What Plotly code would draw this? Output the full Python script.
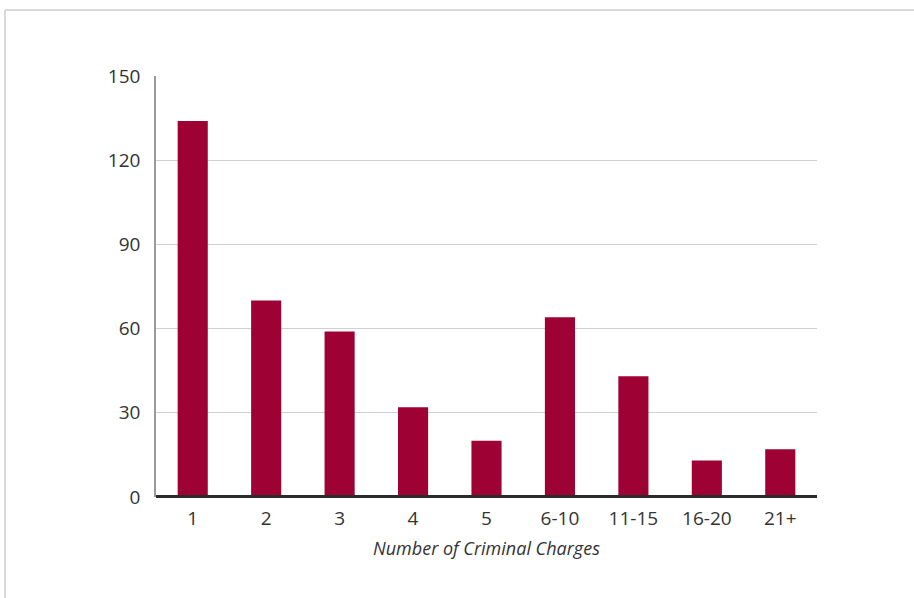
import plotly.graph_objects as go

categories = ["1", "2", "3", "4", "5", "6-10", "11-15", "16-20", "21+"]
counts = [134, 70, 59, 32, 20, 64, 43, 13, 17]
y_ticks = [0, 30, 60, 90, 120, 150]

W, H = 914, 598
ML, MR, MT, MB = 156, 97, 76, 101
pw, ph = W - ML - MR, H - MT - MB

def px(x):
    return (x - ML) / pw

def py(y):
    return (H - MB - y) / ph

fig = go.Figure(go.Bar(
    x=categories, y=counts, marker_color="#9E0234", marker_line_width=0,
))

font = "'Open Sans', sans-serif"
fig.update_layout(
    width=W, height=H,
    margin=dict(l=ML, r=MR, t=MT, b=MB, pad=0),
    paper_bgcolor="white", plot_bgcolor="white",
    bargap=0.59, showlegend=False,
    font=dict(family=font, color="#333333", size=19),
    xaxis=dict(
        type="category", showgrid=False, ticks="outside", ticklen=4, tickcolor="rgba(0,0,0,0)",
        tickfont=dict(size=19, color="#333333"),
        title=dict(text="<i>Number of Criminal Charges</i>", font=dict(size=18, color="#333333"), standoff=12),
        showline=False, zeroline=False,
    ),
    yaxis=dict(
        range=[0, 150], tickvals=y_ticks, showgrid=True, gridcolor="#d0d0d0", gridwidth=1,
        showline=True, linecolor="#9a9a9a", linewidth=1.5, zeroline=False,
        ticks="outside", ticklen=10, tickcolor="rgba(0,0,0,0)",
        tickfont=dict(size=19, color="#333333"),
    ),
    shapes=[
        dict(type="line", xref="paper", yref="paper", x0=px(5), x1=px(914), y0=py(10), y1=py(10),
             line=dict(color="#d9d9d9", width=2)),
        dict(type="line", xref="paper", yref="paper", x0=px(5), x1=px(5), y0=py(10), y1=py(598),
             line=dict(color="#d9d9d9", width=2)),
        dict(type="line", xref="paper", yref="paper", x0=0, x1=1, y0=py(496.5), y1=py(496.5),
             line=dict(color="#2b2b2b", width=3), layer="above"),
    ],
)

fig.write_html("out.html", config={"displayModeBar": False},
               post_script="document.body.style.margin='0';")
